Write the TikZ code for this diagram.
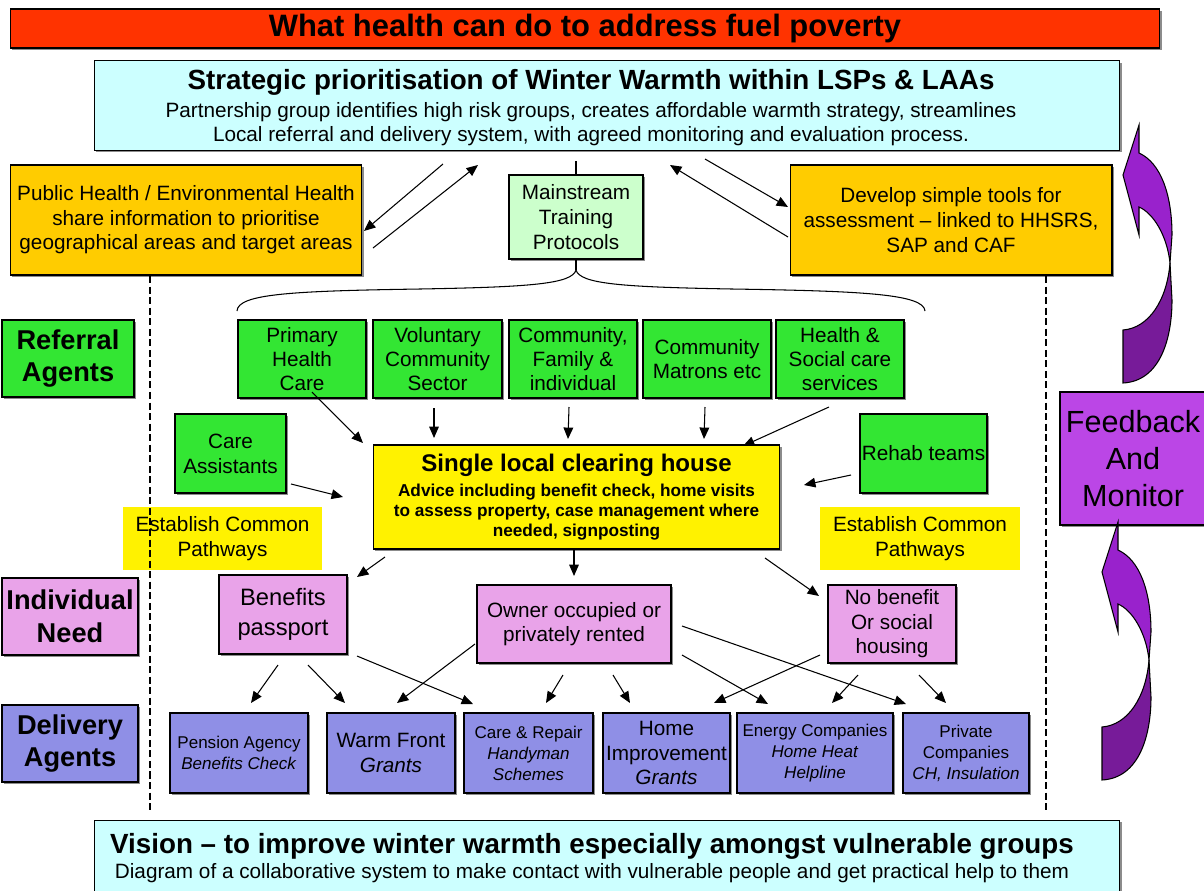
\documentclass[tikz,border=0pt]{standalone}
\usepackage{fontspec}
\setmainfont{Liberation Sans}
\usetikzlibrary{arrows.meta,positioning,shadows}

\definecolor{titlered}{HTML}{FF3300}
\definecolor{paleblue}{HTML}{CCFFFF}
\definecolor{amber}{HTML}{FFCC00}
\definecolor{palegreen}{HTML}{CCFFCC}
\definecolor{agentgreen}{HTML}{33E633}
\definecolor{needpink}{HTML}{E9A3E9}
\definecolor{delivblue}{HTML}{8F8FE6}
\definecolor{fbpurple}{HTML}{BB46E6}
\definecolor{arrowtop}{HTML}{9922CC}
\definecolor{arrowlow}{HTML}{771B99}

\begin{document}
\begin{tikzpicture}[x=0.02cm, y=-0.02cm,
  every node/.style={font=\fontsize{11.8}{14}\selectfont, align=center, inner sep=1pt},
  box/.style={draw, line width=0.6pt, rectangle,
              drop shadow={shadow xshift=1pt, shadow yshift=-1pt, fill=black!45, opacity=1}},
  banner/.style={box, fill=titlered, minimum width=23cm, minimum height=0.78cm,
                 font=\fontsize{17.6}{20}\selectfont\bfseries},
  strat/.style={box, fill=paleblue, minimum width=20.52cm, minimum height=1.78cm,
                font=\fontsize{11.8}{13.6}\selectfont},
  plan/.style={box, fill=amber, minimum height=2.2cm},
  train/.style={box, fill=palegreen, minimum width=2.68cm, minimum height=1.68cm},
  rowlab/.style={box, minimum width=2.72cm, minimum height=1.54cm,
                 font=\fontsize{15.5}{18.7}\selectfont\bfseries},
  agent/.style={box, fill=agentgreen, minimum width=2.56cm, minimum height=1.56cm,
                font=\fontsize{11.8}{13.6}\selectfont},
  hub/.style={box, fill=yellow, minimum width=8.14cm, minimum height=2.08cm,
              font=\fontsize{9.8}{11.3}\selectfont\bfseries},
  pathway/.style={fill=yellow, minimum width=4cm, minimum height=1.26cm},
  need/.style={box, fill=needpink, minimum width=2.56cm, minimum height=1.56cm},
  deliv/.style={box, fill=delivblue, minimum height=1.6cm, font=\fontsize{9.7}{11.9}\selectfont},
  vision/.style={box, fill=paleblue, minimum width=20.52cm, minimum height=1.5cm,
                 font=\fontsize{11.8}{13}\selectfont},
  fb/.style={box, fill=fbpurple, minimum width=2.92cm, minimum height=2.66cm,
             font=\fontsize{17.4}{21}\selectfont},
  ar/.style={-{Triangle[length=6.5pt,width=5.5pt]}, line width=0.6pt},
  guide/.style={line width=0.6pt, dash pattern=on 4pt off 2pt},
  swoop/.style={draw=black, line width=0.6pt}]

\useasboundingbox (0,0) rectangle (1204,890);

%% ---- TOP: banner, strategy, planning boxes ----
\node[banner] (title) at (585,28.5) {What health can do to address fuel poverty};
\node[strat]  (strat) at (607,105.5)
  {\begin{tabular}{@{}c@{\hspace{0.64cm}}}
   \rule{0pt}{15pt}{\fontsize{15.8}{17}\selectfont\bfseries Strategic prioritisation of Winter Warmth within LSPs \& LAAs}\\[2.5pt]
   Partnership group identifies high risk groups, creates affordable warmth strategy, streamlines\\
   Local referral and delivery system, with agreed monitoring and evaluation process.
   \end{tabular}};
\node[plan, minimum width=7.04cm] (pubh)  at (186,220)
  {Public Health / Environmental Health\\ share information to prioritise\\ geographical areas and target areas};
\node[train] (train) at (576,217) {Mainstream\\ Training\\ Protocols};
\node[plan, minimum width=6.44cm] (tools) at (951,220)
  {Develop simple tools for\\ assessment -- linked to HHSRS,\\ SAP and CAF};

%% ---- ROW LABELS (left) ----
\node[rowlab, fill=agentgreen, minimum width=2.64cm] (refLab) at (68,358.5)  {Referral\\ Agents};
\node[rowlab, fill=needpink]   (needLab) at (70,616.5) {Individual\\ Need};
\node[rowlab, fill=delivblue]  (delLab)  at (70,743.5) {Delivery\\ Agents};

%% ---- REFERRAL AGENTS ----
\node[agent]                       (phc)  at (302,359)   {Primary\\ Health\\ Care};
\node[agent, minimum width=2.58cm] (vcs)  at (437.5,359) {Voluntary\\ Community\\ Sector};
\node[agent]                       (cfi)  at (573,359)   {Community,\\ Family \&\\ individual};
\node[agent]                       (cmat) at (707,359)   {Community\\ Matrons etc};
\node[agent]                       (hsc)  at (840,359)   {Health \&\\ Social care\\ services};
\node[agent, minimum width=2.22cm, minimum height=1.58cm, font=\fontsize{11.8}{14.2}\selectfont]
                                   (careA) at (230.5,453.5) {Care\\ Assistants};
\node[agent, minimum width=2.54cm, minimum height=1.58cm] (rehab) at (923.5,453.5) {Rehab teams};

%% ---- CLEARING HOUSE ----
\node[hub] (clear) at (576.5,497)
  {{\fontsize{13.7}{15}\selectfont Single local clearing house}\\[3pt]
   Advice including benefit check, home visits\\ to assess property, case management where\\ needed, signposting};
\node[pathway] (pathL) at (222.5,538.5) {Establish Common\\ Pathways};
\node[pathway] (pathR) at (920,538.5)   {Establish Common\\ Pathways};

%% ---- INDIVIDUAL NEED ----
\node[need, minimum height=1.58cm, font=\fontsize{13.5}{17}\selectfont] (benef) at (283,614.5) {Benefits\\ passport};
\node[need, minimum width=3.88cm] (owner)   at (574,624) {Owner occupied or\\ privately rented};
\node[need]                       (nobenef) at (892,624) {No benefit\\ Or social\\ housing};

%% ---- DELIVERY AGENTS ----
\node[deliv, minimum width=2.76cm] (pension) at (239,753)   {Pension Agency\\ \textit{Benefits Check}};
\node[deliv, minimum width=2.56cm, font=\fontsize{11.8}{14.2}\selectfont]
                                   (warm)    at (391,753)   {Warm Front\\ \textit{Grants}};
\node[deliv, minimum width=2.58cm] (repair)  at (528.5,753) {Care \& Repair\\ \textit{Handyman}\\ \textit{Schemes}};
\node[deliv, minimum width=2.54cm, font=\fontsize{11.8}{14.2}\selectfont]
                                   (homeimp) at (666.5,753) {Home\\ Improvement\\ \textit{Grants}};
\node[deliv, minimum width=3.12cm] (energy)  at (815,753)   {Energy Companies\\ \textit{Home Heat}\\ \textit{Helpline}};
\node[deliv, minimum width=2.52cm] (privco)  at (966,753)   {Private\\ Companies\\ \textit{CH, Insulation}};

%% ---- BOTTOM + FEEDBACK ----
\node[vision] (vision) at (607,858)
  {{\fontsize{15.8}{17}\selectfont\bfseries Vision -- to improve winter warmth especially amongst vulnerable groups}\hspace*{0.6cm}\\[1pt]
   Diagram of a collaborative system to make contact with vulnerable people and get practical help to them\hspace*{0.6cm}};
\node[fb] (feedback) at (1133,458.5) {Feedback\\ And\\ Monitor};

%% --- free ends of the floating arrows ---
\coordinate (stratTick) at (576,161);
\coordinate (braceTip)  at (576,270);
\coordinate (s2phA) at (443,164);  \coordinate (s2phB) at (364,231);
\coordinate (ph2sA) at (373,248);  \coordinate (ph2sB) at (478,165);
\coordinate (t2sA)  at (788,237);  \coordinate (t2sB)  at (670,165);
\coordinate (s2tA)  at (705,159);  \coordinate (s2tB)  at (788,207);
\coordinate (phcA)  at (312,392);  \coordinate (phcB)  at (363,443);
\coordinate (vcsA)  at (434,408);  \coordinate (vcsB)  at (434,438);
\coordinate (cfiA)  at (569,407);  \coordinate (cfiB)  at (568,439);
\coordinate (cmatA) at (705,407);  \coordinate (cmatB) at (704,439);
\coordinate (hscA)  at (829,407);  \coordinate (hscB)  at (743,446);
\coordinate (careAA) at (291,484); \coordinate (careAB) at (343,497);
\coordinate (rehabA) at (851,475); \coordinate (rehabB) at (804,485);
\coordinate (clrL)  at (385,557);  \coordinate (clrLB) at (357,577);
\coordinate (clrM)  at (574,550);  \coordinate (clrMB) at (574,576);
\coordinate (clrR)  at (765,558);  \coordinate (clrRB) at (819,596);

%% --- Arrows top ---
\draw[ar] (s2phA) -- (s2phB);
\draw[ar] (ph2sA) -- (ph2sB);
\draw[ar] (t2sA) -- (t2sB);
\draw[ar] (s2tA) -- (s2tB);
\draw[line width=0.6pt] (stratTick) -- (train.north);
\draw[line width=0.6pt] (train.south) -- (braceTip);
\draw[line width=0.6pt] (237,311) .. controls (238,294) and (290,291) .. (420,289)
  .. controls (530,287) and (572,284) .. (braceTip)
  .. controls (580,284) and (622,287) .. (732,289)
  .. controls (862,291) and (924,294) .. (925,311);

%% --- Arrows referral ---
\draw[ar] (phcA) -- (phcB);
\draw[ar] (vcsA) -- (vcsB);
\draw[ar] (cfiA) -- (cfiB);
\draw[ar] (cmatA) -- (cmatB);
\draw[ar] (hscA) -- (hscB);
\draw[ar] (careAA) -- (careAB);
\draw[ar] (rehabA) -- (rehabB);
\draw[ar] (clrL) -- (clrLB);
\draw[ar] (clrM) -- (clrMB);
\draw[ar] (clrR) -- (clrRB);

%% --- Arrows need -> delivery ---
\coordinate (bpA) at (278,665); \coordinate (bpB) at (251,703);
\coordinate (bwA) at (308,665); \coordinate (bwB) at (345,703);
\coordinate (brA) at (357,656); \coordinate (brB) at (473,704);
\coordinate (owA) at (475,644); \coordinate (owB) at (397,703);
\coordinate (orA) at (563,675); \coordinate (orB) at (546,703);
\coordinate (ohA) at (613,675); \coordinate (ohB) at (630,703);
\coordinate (oeA) at (682,655); \coordinate (oeB) at (768,704);
\coordinate (opA) at (682,626); \coordinate (opB) at (906,704);
\coordinate (nhA) at (820,655); \coordinate (nhB) at (714,703);
\coordinate (neA) at (858,675); \coordinate (neB) at (832,703);
\coordinate (npA) at (919,675); \coordinate (npB) at (946,703);
\foreach \n in {bp,bw,br,ow,or,oh,oe,op,nh,ne,np}
  \draw[ar] (\n A) -- (\n B);

%% --- Dashed guides ---
\draw[guide] (150,276) -- (150,812);
\draw[guide] (1046,276) -- (1046,812);

%% --- Feedback swoops ---
\foreach \tx/\ty in {1139/125, 1118/522}{
  \begin{scope}[shift={(\tx,\ty)}]
    \path[swoop, fill=arrowlow] (31,138) .. controls (28,175) and (10,203) .. (-16,205)
      -- (-16,258) .. controls (22,256) and (33,212) .. (33,175) -- cycle;
    \path[swoop, fill=arrowtop] (0,0) -- (-16,50) -- (0,110) -- (0,82)
      .. controls (14,88) and (28,110) .. (31,138) -- (33,110)
      .. controls (33,70) and (22,38) .. (0,28) -- cycle;
  \end{scope}}
\end{tikzpicture}
\end{document}
